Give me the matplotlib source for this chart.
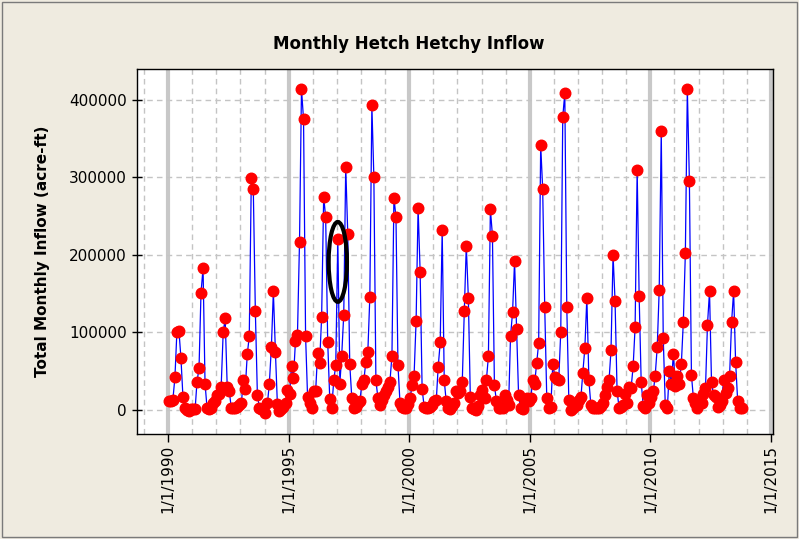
# encoding: utf-8
import numpy as np
import pandas as pd
import matplotlib
matplotlib.use("Agg")
import matplotlib.pyplot as plt
import matplotlib.dates as mdates
from matplotlib.patches import Ellipse, Rectangle
import datetime as dt

# monthly inflow in thousand acre-ft, Jan..Dec of each year
y1990 = [11, 12, 13, 42, 101, 102, 67, 16, 3, 0, -1, 1]
y1991 = [1, 1, 36, 54, 151, 183, 34, 2, 1, 2, 9, 11]
y1992 = [19, 21, 29, 100, 118, 30, 25, 3, 2, 2, 4, 6]
y1993 = [9, 38, 27, 72, 95, 299, 285, 128, 19, 3, 1, 0]
y1994 = [-4, 9, 34, 81, 153, 75, 7, -2, 1, 4, 9, 26]
y1995 = [21, 56, 41, 89, 97, 217, 414, 375, 95, 17, 9, 2]
y1996 = [24, 25, 73, 61, 120, 275, 249, 88, 14, 3, 38, 58]
y1997 = [221, 34, 70, 123, 314, 227, 59, 15, 3, 4, 9, 11]
y1998 = [34, 39, 62, 75, 146, 393, 301, 38, 15, 6, 13, 19]
y1999 = [24, 30, 36, 70, 274, 249, 58, 9, 4, 2, 2, 8]
y2000 = [15, 32, 44, 115, 261, 178, 27, 4, 2, 3, 4, 6]
y2001 = [11, 13, 55, 87, 232, 38, 11, 2, 1, 5, 9, 24]
y2002 = [22, 25, 36, 128, 212, 145, 17, 3, 1, 0, 5, 19]
y2003 = [26, 15, 38, 69, 259, 225, 32, 11, 2, 2, 3, 19]
y2004 = [13, 6, 95, 126, 192, 105, 19, 3, 1, 13, 15, 12]
y2005 = [15, 39, 34, 61, 86, 342, 285, 133, 15, 3, 4, 59]
y2006 = [43, 40, 38, 101, 378, 409, 133, 13, 0, 2, 9, 6]
y2007 = [13, 17, 48, 80, 145, 38, 6, 3, 2, 2, 2, 5]
y2008 = [9, 19, 30, 38, 77, 200, 141, 24, 2, 4, 6, 21]
y2009 = [9, 30, 28, 56, 107, 310, 147, 36, 5, 2, 19, 9]
y2010 = [16, 24, 44, 81, 155, 360, 93, 6, 2, 50, 34, 72]
y2011 = [31, 44, 34, 59, 113, 202, 414, 296, 45, 15, 9, 2]
y2012 = [11, 9, 20, 28, 110, 153, 36, 19, 17, 4, 6, 11]
y2013 = [39, 22, 28, 44, 113, 153, 62, 12, 3, 3]

years = [y1990, y1991, y1992, y1993, y1994, y1995, y1996, y1997, y1998, y1999,
         y2000, y2001, y2002, y2003, y2004, y2005, y2006, y2007, y2008, y2009,
         y2010, y2011, y2012, y2013]

tick_years = [1990, 1995, 2000, 2005, 2010, 2015]
tick_labels = ["1/1/%d" % y for y in tick_years]
y_ticks = [0, 100000, 200000, 300000, 400000]

# the circled month (Jan 1997 flood)
circle_date = "1997-01-15"
circle_value = 191000
circle_width_days = 277
circle_height = 103000

inflow = np.array(sum(years, [])) * 1000.0
months = pd.date_range("1990-01-01", periods=len(inflow), freq="MS") + pd.Timedelta(days=14)

fig = plt.figure(figsize=(7.99, 5.39), dpi=100, facecolor="#EFEBE0")
fig.patches.append(Rectangle((0.002, 0.003), 0.995, 0.993, transform=fig.transFigure,
                             fill=False, edgecolor="#7A7A7A", linewidth=1.0))
ax = fig.add_axes([0.171, 0.195, 0.797, 0.677])
ax.set_facecolor("white")

ax.plot(months, inflow, color="blue", linewidth=0.9, marker="o", markersize=7.6,
        markerfacecolor="red", markeredgecolor="red", zorder=3)

ax.add_patch(Ellipse((mdates.date2num(pd.Timestamp(circle_date)), circle_value),
                     width=circle_width_days, height=circle_height,
                     fill=False, edgecolor="black", linewidth=3.0, zorder=4))

ax.set_xlim(pd.Timestamp("1988-09-12"), pd.Timestamp("2015-02-08"))
ax.set_ylim(-31000, 440000)

ax.set_xticks([dt.datetime(y, 1, 1) for y in tick_years])
ax.set_xticklabels(tick_labels, rotation=90, fontsize=11)
ax.xaxis.set_minor_locator(mdates.YearLocator(1))
ax.set_yticks(y_ticks)
ax.set_yticklabels([str(v) for v in y_ticks], fontsize=11)

ax.tick_params(axis="x", which="major", direction="out", length=5.5, width=1, pad=2.5, color="black")
ax.tick_params(axis="x", which="minor", length=0)
ax.tick_params(axis="y", direction="inout", length=7, width=1, pad=3.5)

ax.set_axisbelow(True)
ax.xaxis.grid(True, which="major", color="#C8C8C8", linewidth=3.0, linestyle="-")
ax.xaxis.grid(True, which="minor", color="#C4C4C4", linewidth=1.0, linestyle=(0, (4, 3)))
ax.yaxis.grid(True, which="major", color="#C4C4C4", linewidth=1.0, linestyle=(0, (4, 3)))

for s in ax.spines.values():
    s.set_linewidth(1.0)
    s.set_color("black")

ax.set_ylabel("Total Monthly Inflow (acre-ft)", fontsize=11, fontweight="bold")
ax.yaxis.set_label_coords(-0.136, 0.5)

fig.text(0.511, 0.918, "Monthly Hetch Hetchy Inflow", ha="center", va="center",
         fontsize=12, fontweight="bold")

fig.savefig("out.png", dpi=100, facecolor=fig.get_facecolor())
